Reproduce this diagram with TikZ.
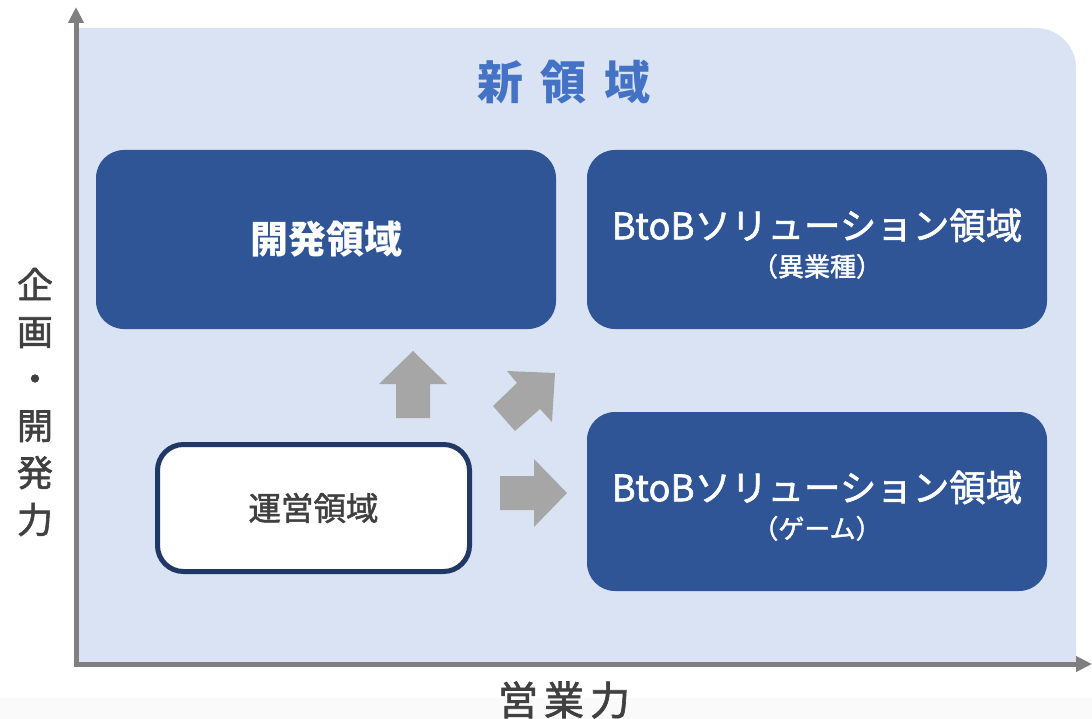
\documentclass[tikz,border=0pt]{standalone}
\usepackage{fontspec}
\setmainfont{Noto Sans CJK JP}
\newfontfamily\medfont{Noto Sans CJK JP}[FakeBold=1.6]
\usetikzlibrary{arrows.meta}

\definecolor{panelblue}{HTML}{DAE3F3}
\definecolor{boxblue}{HTML}{2F5597}
\definecolor{navy}{HTML}{1F3864}
\definecolor{arrowgray}{HTML}{A6A6A6}
\definecolor{axisgray}{HTML}{7F7F7F}
\definecolor{textgray}{HTML}{404040}
\definecolor{titleblue}{HTML}{4472C4}

\begin{document}
\begin{tikzpicture}[x=1pt, y=-1pt,
    area/.style={rectangle, rounded corners=28pt, fill=boxblue, text=white,
                 minimum width=460pt, minimum height=179pt, align=center},
    current/.style={rectangle, rounded corners=26pt, draw=navy, line width=5pt,
                    fill=white, text=textgray, minimum width=312pt, minimum height=127pt},
    axis/.style={draw=axisgray, line width=5pt, -{Triangle[width=15pt,length=16pt]}},
    blockarrow/.style={fill=arrowgray}]
    \useasboundingbox (0,0) rectangle (1092,719);
    \fill[white] (0,0) rectangle (1092,719);
    \fill[gray!4] (0,698) rectangle (1092,719);

    % 背景
    \fill[panelblue] (78,662) -- (78,28) [rounded corners=40pt] -- (1076,28) [sharp corners] -- (1076,662) -- cycle;

    % 軸を描画
    \coordinate (O) at (76,664);
    \coordinate (ytop) at (76,7);
    \coordinate (xend) at (1092,664);
    \draw[axis] (O) -- (ytop);
    \draw[axis] ([xshift=-2.5pt]O) -- (xend);

    % 軸ラベル
    \node[text=textgray, align=center, font=\fontsize{36}{47}\medfont] (ylabel) at (35,402)
        {企\\画\\・\\開\\発\\力};
    \node[text=textgray, font=\fontsize{40}{44}\medfont] (xlabel) at (564,700)
        {営\hspace{6pt}業\hspace{6pt}力};

    % タイトル
    \node[text=titleblue, font=\fontsize{46}{50}\selectfont\bfseries] (title) at (564,82)
        {新\hspace{18pt}領\hspace{18pt}域};

    % ノードを描画
    \node[area, font=\fontsize{38}{42}\selectfont\bfseries] (kaihatsu) at (326,239.5) {開発領域};
    \node[area, font=\fontsize{36.5}{40}\medfont] (btobA) at (817,239.5)
        {\rule{0pt}{39pt}BtoBソリューション領域\\[-3pt]{\fontsize{26}{30}\selectfont （異業種）}};
    \node[area, font=\fontsize{36.5}{40}\medfont] (btobB) at (817,501.5)
        {\rule{0pt}{39pt}BtoBソリューション領域\\[-3pt]{\fontsize{26}{30}\selectfont （ゲーム）}};
    \node[current, font=\fontsize{32.5}{36}\medfont] (unei) at (313.5,508) {運営領域};

    % 矢印を描画
    \fill[blockarrow] (396,418) -- (396,384) -- (379,384) -- (413,351) -- (447,384) -- (430,384) -- (430,418) -- cycle;
    \fill[blockarrow] (493,406) -- (517,383) -- (507,371) -- (555,373) -- (552,422) -- (540,409) -- (515,431) -- cycle;
    \fill[blockarrow] (500,476) -- (534,476) -- (534,459) -- (567,493) -- (534,527) -- (534,510) -- (500,510) -- cycle;
\end{tikzpicture}
\end{document}
